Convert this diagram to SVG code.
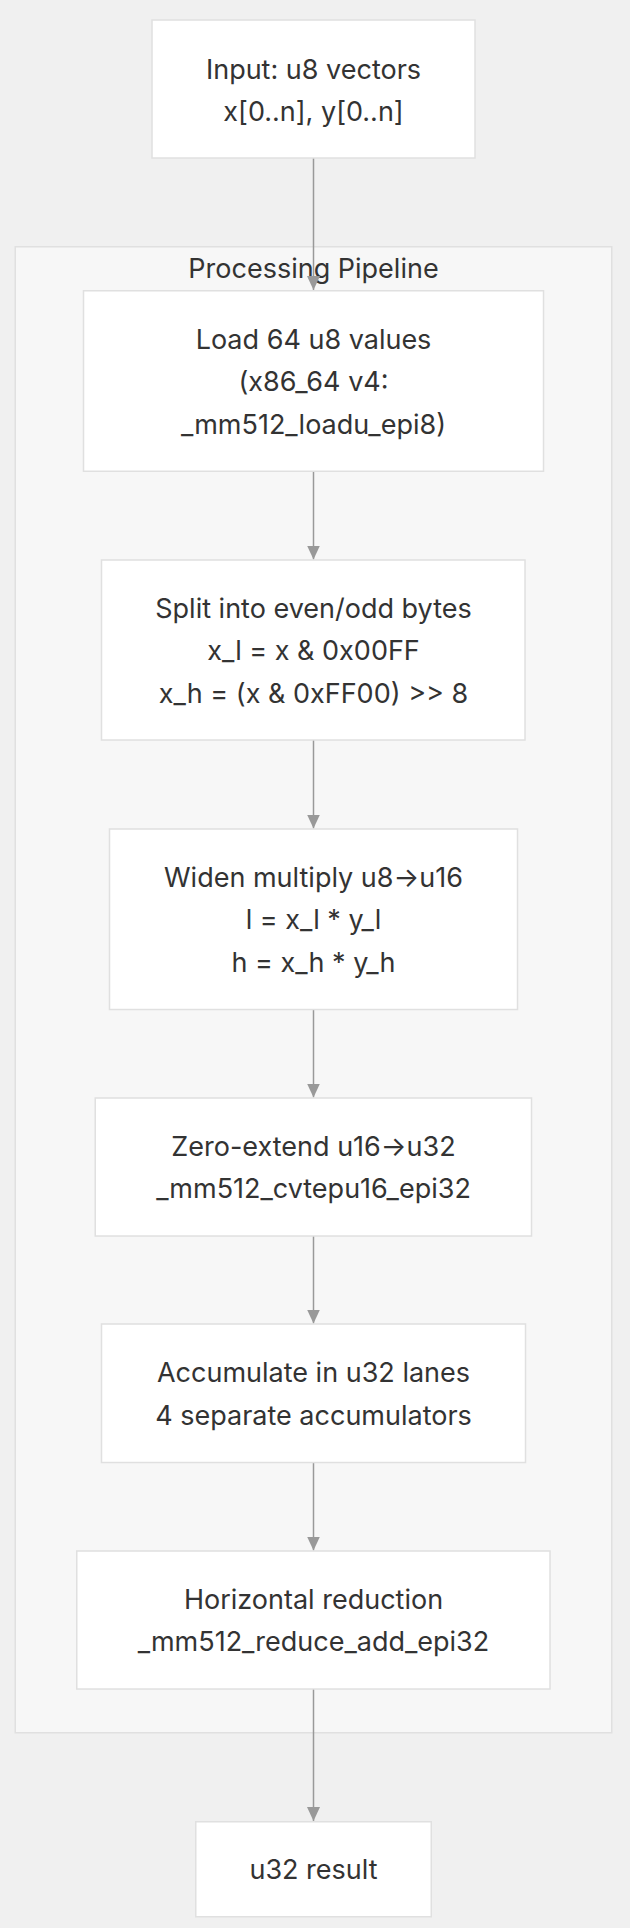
<svg xmlns="http://www.w3.org/2000/svg" width="630" height="1928" viewBox="0 0 630 1928">
<style>
.bg{fill:#f0f0f0}
.cluster{fill:#f7f7f7;stroke:#e0e0e0;stroke-width:1.5}
.node rect{fill:#ffffff;stroke:#e0e0e0;stroke-width:1.5}
text{font-family:Inter,"Noto Sans","Liberation Sans",sans-serif;font-size:27px;fill:#333333;text-anchor:middle}
.edge{stroke:#999999;stroke-width:1.5;fill:none}
</style>
<defs>
<marker id="arr" viewBox="0 0 14 14" refX="14" refY="7" markerWidth="14" markerHeight="14" markerUnits="userSpaceOnUse" orient="auto">
<path d="M0,0.5 L14,7 L0,13.5 Z" fill="#999999"/>
</marker>
</defs>
<rect class="bg" x="0" y="0" width="630" height="1928"/>
<g id="cluster-pipeline">
<rect class="cluster" x="15.25" y="246.75" width="596.5" height="1486"/>
<text x="313.5" y="278">Processing Pipeline</text>
</g>
<g id="connectors">
<path class="edge" d="M313.5,158 L313.5,290" marker-end="url(#arr)"/>
<path class="edge" d="M313.5,471 L313.5,559.5" marker-end="url(#arr)"/>
<path class="edge" d="M313.5,740 L313.5,828.5" marker-end="url(#arr)"/>
<path class="edge" d="M313.5,1009.5 L313.5,1097.5" marker-end="url(#arr)"/>
<path class="edge" d="M313.5,1236 L313.5,1323.5" marker-end="url(#arr)"/>
<path class="edge" d="M313.5,1462.5 L313.5,1550.5" marker-end="url(#arr)"/>
<path class="edge" d="M313.5,1689 L313.5,1821" marker-end="url(#arr)"/>
</g>
<g id="input" class="node">
<rect x="152" y="20" width="323" height="138"/>
<text x="313.5" y="79">Input: u8 vectors</text>
<text x="313.5" y="121">x[0..n], y[0..n]</text>
</g>
<g id="load" class="node">
<rect x="83.5" y="290.75" width="460" height="180.5"/>
<text x="313.5" y="348.5">Load 64 u8 values</text>
<text x="313.5" y="391">(x86_64 v4:</text>
<text x="313.5" y="433.5">_mm512_loadu_epi8)</text>
</g>
<g id="split" class="node">
<rect x="101.5" y="560" width="423.5" height="180"/>
<text x="313.5" y="617.5">Split into even/odd bytes</text>
<text x="313.5" y="660">x_l = x &amp; 0x00FF</text>
<text x="313.5" y="702.5">x_h = (x &amp; 0xFF00) &gt;&gt; 8</text>
</g>
<g id="widen" class="node">
<rect x="109.5" y="829" width="408" height="180.5"/>
<text x="313.5" y="886.5">Widen multiply u8→u16</text>
<text x="313.5" y="929">l = x_l * y_l</text>
<text x="313.5" y="971.5">h = x_h * y_h</text>
</g>
<g id="zeroextend" class="node">
<rect x="95.25" y="1098" width="436.25" height="138"/>
<text x="313.5" y="1155.5">Zero-extend u16→u32</text>
<text x="313.5" y="1198">_mm512_cvtepu16_epi32</text>
</g>
<g id="accumulate" class="node">
<rect x="101.5" y="1324" width="424" height="138.5"/>
<text x="313.5" y="1382">Accumulate in u32 lanes</text>
<text x="313.5" y="1424.5">4 separate accumulators</text>
</g>
<g id="reduce" class="node">
<rect x="76.75" y="1551" width="473.25" height="138"/>
<text x="313.5" y="1608.5">Horizontal reduction</text>
<text x="313.5" y="1651">_mm512_reduce_add_epi32</text>
</g>
<g id="result" class="node">
<rect x="195.75" y="1821.75" width="235.5" height="95"/>
<text x="313.5" y="1879">u32 result</text>
</g>
</svg>
